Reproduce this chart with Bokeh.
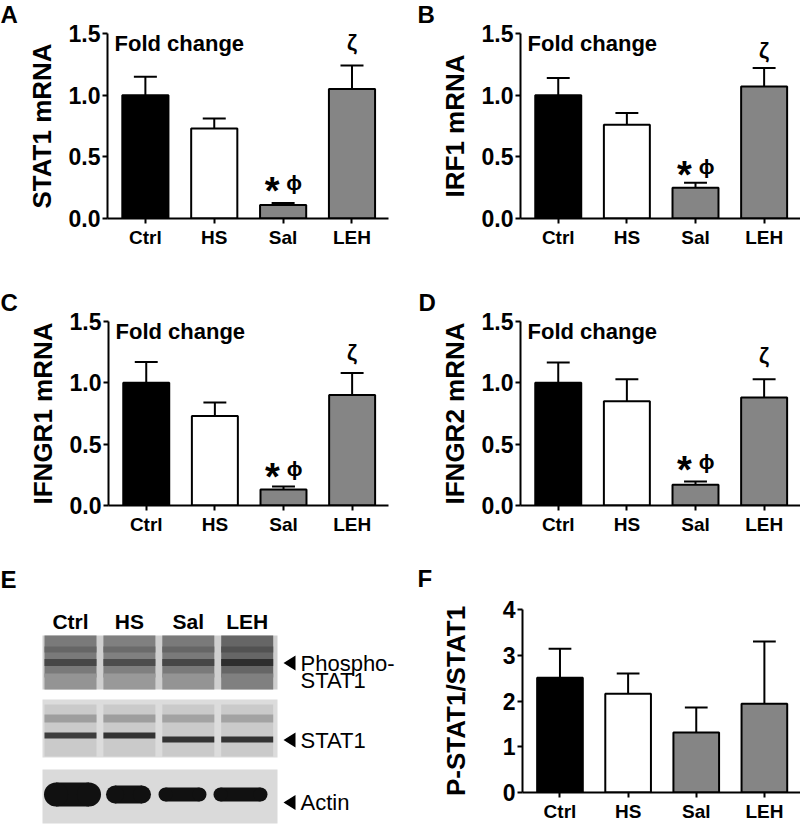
from bokeh.plotting import figure
from bokeh.models import Range1d, FixedTicker, Label, ColumnDataSource, NumeralTickFormatter, Plot
from bokeh.layouts import row, column
from bokeh.embed import file_html
from bokeh.resources import INLINE
from bokeh.core.properties import value

# ---------------- data ----------------
groups = ["Ctrl", "HS", "Sal", "LEH"]
bar_colors = ["#000000", "#ffffff", "#858585", "#858585"]

stat1_mean = [1.00, 0.73, 0.11, 1.05]
stat1_err = [0.15, 0.08, 0.015, 0.19]
irf1_mean = [1.00, 0.76, 0.25, 1.07]
irf1_err = [0.14, 0.095, 0.04, 0.15]
ifngr1_mean = [1.00, 0.73, 0.13, 0.90]
ifngr1_err = [0.17, 0.11, 0.025, 0.18]
ifngr2_mean = [1.00, 0.85, 0.17, 0.88]
ifngr2_err = [0.165, 0.18, 0.025, 0.15]
pstat_mean = [2.51, 2.16, 1.31, 1.94]
pstat_err = [0.63, 0.44, 0.55, 1.36]

mrna_ticks = [0, 0.5, 1.0, 1.5]
mrna_tick_labels = ["0.0", "0.5", "1.0", "1.5"]
ratio_ticks = [0, 1, 2, 3, 4]
ratio_tick_labels = ["0", "1", "2", "3", "4"]

panel_letters = ["A", "B", "C", "D", "E", "F"]
fold_text = "Fold change"
mark_sal_star = "*"
mark_sal_phi = "\u03d5"
mark_leh = "\u03b6"

# western blot (panel E): band darkness 0..1
blot_lanes = groups
phospho_band_dark = [0.72, 0.70, 0.72, 0.82]
phospho_lane_dark = [0.52, 0.50, 0.52, 0.60]
stat1_upper_dark = [0.38, 0.38, 0.36, 0.36]
stat1_lower_dark = [0.76, 0.80, 0.80, 0.80]
actin_band_thick = [24, 18, 14, 14]
blot_names = ["Phospho-", "STAT1", "Actin"]

FONT = "Liberation Sans"
EXTRA = {"frame_align": False} if "frame_align" in Plot.properties() else {}


def grey(d):
    g = int(round(255 * (1 - d)))
    return "#%02x%02x%02x" % (g, g, g)


def blank_fig(w, h):
    f = figure(width=w, height=h, x_range=Range1d(0, w), y_range=Range1d(h, 0),
               output_backend="svg", toolbar_location=None, x_axis_type=None, y_axis_type=None,
               min_border=0, **EXTRA)
    f.outline_line_color = None
    f.grid.visible = False
    f.background_fill_color = "white"
    f.border_fill_color = "white"
    return f


def letter_fig(letter, w, h, lx, ly):
    f = blank_fig(w, h)
    f.text(x=[lx], y=[ly], text=[letter], text_font=value(FONT), text_font_size="24px",
           text_font_style="bold", text_align="left", text_baseline="middle", text_color="black")
    return f


def add_label(p, text, x, y, xo, yo, size, align="left", baseline="middle", style="bold"):
    p.add_layout(Label(x=x, y=y, x_offset=xo, y_offset=yo, text=text,
                       text_font=FONT, text_font_size=size, text_font_style=style,
                       text_align=align, text_baseline=baseline, text_color="black"))


def bar_panel(ylabel, means, errs, ticks, tick_labels, fmt, w, h,
              left, right, top, bottom, ylab_standoff,
              xlab_standoff=3, fold=True, zeta_gap=None, sal_gap=None):
    x0, x1 = -0.55, 3.53
    y_end = ticks[-1]
    p = figure(width=w, height=h, x_range=Range1d(x0, x1), y_range=Range1d(0, y_end),
               output_backend="svg", toolbar_location=None,
               min_border_left=left, min_border_right=right,
               min_border_top=top, min_border_bottom=bottom, **EXTRA)
    p.outline_line_color = None
    p.xgrid.visible = False
    p.ygrid.visible = False
    p.background_fill_color = "white"
    p.border_fill_color = "white"

    xs = list(range(len(groups)))
    etop = [m + e for m, e in zip(means, errs)]
    cap = 0.167
    src = ColumnDataSource(dict(x=xs, top=means, color=bar_colors, etop=etop,
                                cx0=[x - cap for x in xs], cx1=[x + cap for x in xs]))
    p.segment(x0="x", y0="top", x1="x", y1="etop", source=src, line_color="black", line_width=2)
    p.segment(x0="cx0", y0="etop", x1="cx1", y1="etop", source=src, line_color="black", line_width=2)
    p.vbar(x="x", width=0.67, top="top", bottom=0, fill_color="color", line_color="black",
           line_width=2, source=src)

    xa = p.xaxis[0]
    ya = p.yaxis[0]
    for ax in (xa, ya):
        ax.axis_line_width = 2
        ax.axis_line_color = "black"
        ax.major_tick_line_width = 2
        ax.major_tick_line_color = "black"
        ax.major_tick_out = 5
        ax.major_tick_in = 0
        ax.minor_tick_line_color = None
        ax.major_label_text_font = FONT
        ax.major_label_text_font_style = "bold"
        ax.major_label_text_color = "black"
    ya.ticker = FixedTicker(ticks=ticks, minor_ticks=[])
    ya.formatter = NumeralTickFormatter(format=fmt)
    ya.major_label_overrides = {t: l for t, l in zip(ticks, tick_labels)}
    ya.major_label_text_font_size = "23px"
    ya.major_label_standoff = 2
    ya.axis_label = ylabel
    ya.axis_label_text_font = FONT
    ya.axis_label_text_font_size = "26px"
    ya.axis_label_text_font_style = "bold"
    ya.axis_label_text_color = "black"
    ya.axis_label_standoff = ylab_standoff
    xa.ticker = FixedTicker(ticks=xs, minor_ticks=[])
    xa.major_label_overrides = {i: g for i, g in zip(xs, groups)}
    xa.major_label_text_font_size = "19px"
    xa.major_label_standoff = xlab_standoff

    if fold:
        add_label(p, fold_text, x0, y_end, 7, -10, "22px")
    if zeta_gap is not None:
        add_label(p, mark_leh, xs[3], etop[3], 0, zeta_gap, "22px", align="center", baseline="bottom")
    if sal_gap is not None:
        add_label(p, mark_sal_phi, xs[2], etop[2], 11, sal_gap, "21px", align="center", baseline="bottom")
        add_label(p, mark_sal_star, xs[2], etop[2], -11, sal_gap + 3, "38px", align="center",
                  baseline="alphabetic")
    return p


LW_A, LW_B = 20, 36
la = letter_fig(panel_letters[0], LW_A, 280, 0, 14)
pa = bar_panel("STAT1 mRNA", stat1_mean, stat1_err, mrna_ticks, mrna_tick_labels, "0.0",
               400 - LW_A, 280, 107 - LW_A, 12, 33, 62, 9, zeta_gap=11, sal_gap=9)
lb = letter_fig(panel_letters[1], LW_B, 280, 17, 14)
pb = bar_panel("IRF1 mRNA", irf1_mean, irf1_err, mrna_ticks, mrna_tick_labels, "0.0",
               400 - LW_B, 280, 119 - LW_B, 0, 33, 62, 9, zeta_gap=5, sal_gap=5)
lc = letter_fig(panel_letters[2], LW_A, 280, 0, 22)
pc = bar_panel("IFNGR1 mRNA", ifngr1_mean, ifngr1_err, mrna_ticks, mrna_tick_labels, "0.0",
               400 - LW_A, 280, 108 - LW_A, 12, 41, 55, 9, zeta_gap=8, sal_gap=6)
ld = letter_fig(panel_letters[3], LW_B, 280, 18, 22)
pd = bar_panel("IFNGR2 mRNA", ifngr2_mean, ifngr2_err, mrna_ticks, mrna_tick_labels, "0.0",
               400 - LW_B, 280, 119 - LW_B, 0, 41, 55, 9, zeta_gap=11, sal_gap=9)
lf = letter_fig(panel_letters[5], LW_B, 264, 17, 18)
pf = bar_panel("P-STAT1/STAT1", pstat_mean, pstat_err, ratio_ticks, ratio_tick_labels, "0",
               400 - LW_B, 264, 122 - LW_B, 0, 49, 32, 29, xlab_standoff=3, fold=False)

# ---------------- panel E: western blot drawing ----------------
pe = blank_fig(400, 264)

n = len(blot_lanes)
lane_c = [70 + 58.9 * i for i in range(n)]
lane_w = 52
blot_left, blot_right = 42, 277
blot_cx = (blot_left + blot_right) / 2
blot_w = blot_right - blot_left

# phospho panel
pe.rect(x=[blot_cx], y=[102], width=[blot_w], height=[54], fill_color="#cfcfcf", line_color=None)
pe.rect(x=lane_c, y=[96] * n, width=lane_w, height=42,
        fill_color=[grey(d) for d in phospho_lane_dark], line_color=None)
pe.rect(x=lane_c, y=[121] * n, width=lane_w, height=16,
        fill_color=[grey(d - 0.1) for d in phospho_lane_dark], line_color=None)
pe.rect(x=lane_c, y=[89] * n, width=lane_w, height=6,
        fill_color=[grey(d + 0.08) for d in phospho_lane_dark], line_color=None)
pe.rect(x=lane_c, y=[102] * n, width=lane_w, height=7,
        fill_color=[grey(d) for d in phospho_band_dark], line_color=None)

# STAT1 panel
pe.rect(x=[blot_cx], y=[168], width=[blot_w], height=[58], fill_color="#dcdcdc", line_color=None)
pe.rect(x=lane_c, y=[170] * n, width=lane_w, height=52, fill_color="#cacaca", line_color=None)
pe.rect(x=lane_c, y=[158] * n, width=lane_w, height=8,
        fill_color=[grey(d) for d in stat1_upper_dark], line_color=None)
low_y = [175, 175, 179, 179]
pe.rect(x=lane_c, y=low_y, width=lane_w, height=6,
        fill_color=[grey(d) for d in stat1_lower_dark], line_color=None)

# Actin panel
pe.rect(x=[blot_cx], y=[236], width=[blot_w], height=[54], fill_color="#dadada", line_color=None)
act_w = [57, 45, 48, 54]
act_c = [72, 128, 182, 240]
pe.rect(x=act_c, y=[234] * n, width=[w - t for w, t in zip(act_w, actin_band_thick)],
        height=actin_band_thick, fill_color="#111111", line_color=None)
pe.ellipse(x=[c - (w - t) / 2 for c, w, t in zip(act_c, act_w, actin_band_thick)], y=[234] * n,
           width=actin_band_thick, height=actin_band_thick, fill_color="#111111", line_color=None)
pe.ellipse(x=[c + (w - t) / 2 for c, w, t in zip(act_c, act_w, actin_band_thick)], y=[234] * n,
           width=actin_band_thick, height=actin_band_thick, fill_color="#111111", line_color=None)

# lane labels
pe.text(x=lane_c, y=[60.5] * n, text=blot_lanes, text_font=value(FONT), text_font_size="21px",
        text_font_style="bold", text_align="center", text_baseline="middle", text_color="black")

# arrows + names
arrow_y = [102.5, 179.5, 242]
pe.patches(xs=[[283, 295, 295] for _ in arrow_y],
           ys=[[y, y - 7.5, y + 7.5] for y in arrow_y], fill_color="black", line_color=None)
pe.text(x=[300, 300, 300, 300], y=[102.5, 119.5, 179.5, 242],
        text=[blot_names[0], blot_names[1], blot_names[1], blot_names[2]],
        text_font=value(FONT), text_font_size="22px", text_font_style="normal",
        text_align="left", text_baseline="middle", text_color="black")
pe.text(x=[0], y=[19], text=[panel_letters[4]], text_font=value(FONT), text_font_size="24px",
        text_font_style="bold", text_align="left", text_baseline="middle", text_color="black")

layout = column(row(la, pa, lb, pb), row(lc, pc, ld, pd), row(pe, lf, pf))
open("out.html", "w").write(file_html(layout, INLINE))
